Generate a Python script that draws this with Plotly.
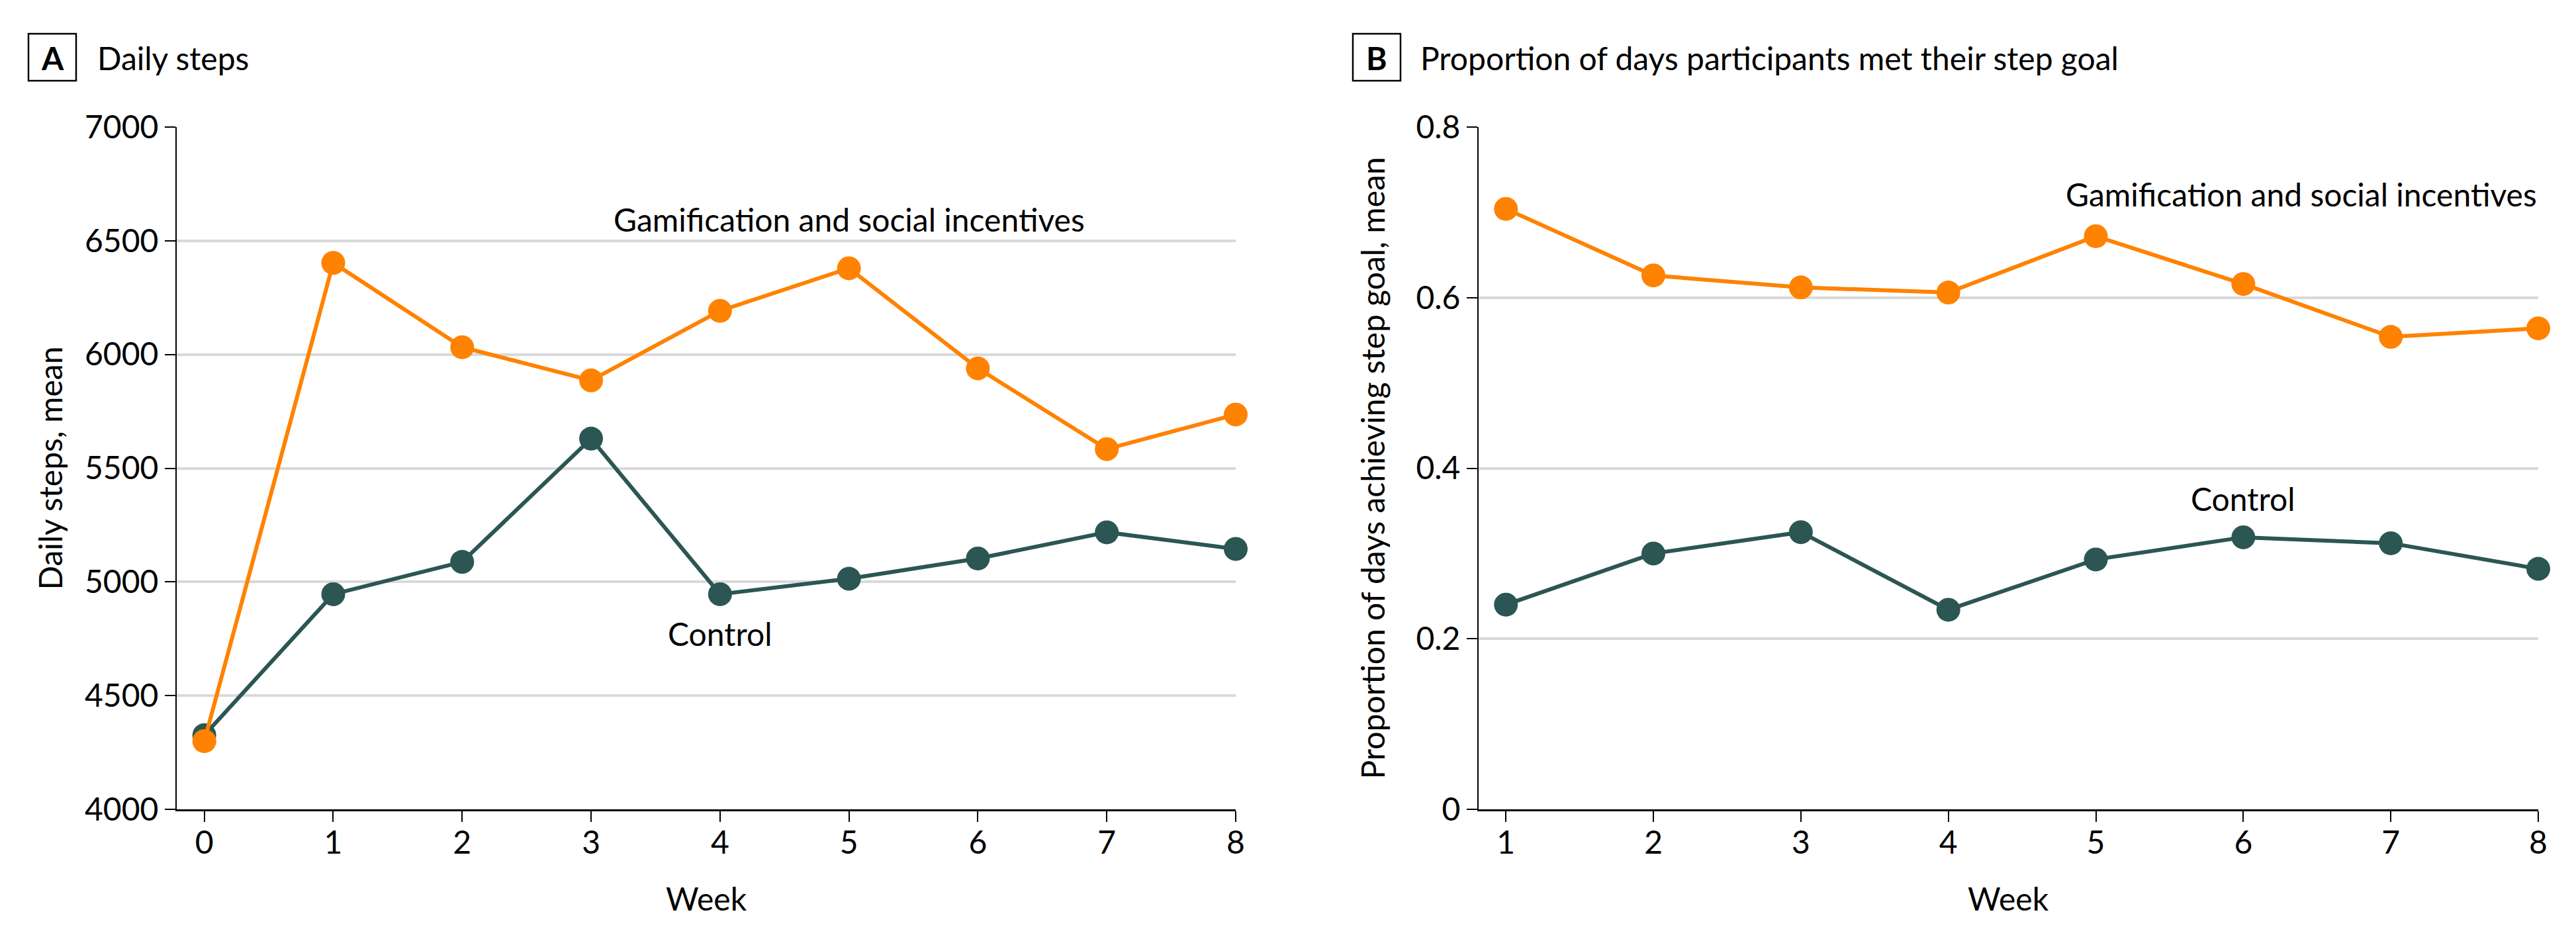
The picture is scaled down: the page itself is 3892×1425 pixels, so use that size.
import plotly.graph_objects as go

# page body has an 8 px margin; size the figure to fit inside the window
OFF = 8
W, H = 3892 - 2 * OFF, 1425 - 2 * OFF

# ---- data ----
weeks_a = [0, 1, 2, 3, 4, 5, 6, 7, 8]
steps_gamification = [4300, 6403, 6032, 5886, 6192, 6379, 5939, 5584, 5736]
steps_control = [4326, 4946, 5088, 5630, 4946, 5014, 5103, 5218, 5145]

weeks_b = [1, 2, 3, 4, 5, 6, 7, 8]
prop_gamification = [0.704, 0.626, 0.612, 0.606, 0.672, 0.616, 0.554, 0.564]
prop_control = [0.240, 0.300, 0.325, 0.234, 0.293, 0.319, 0.312, 0.282]

yticks_a = [4000, 4500, 5000, 5500, 6000, 6500, 7000]
yticks_b = [0, 0.2, 0.4, 0.6, 0.8]
yticktext_b = ["0", "0.2", "0.4", "0.6", "0.8"]

ORANGE = "#FF8200"
TEAL = "#2B5653"
GRID = "#D9D9D9"
FONT = "Lato, Liberation Sans, sans-serif"
FS = 48

def px_x(p):
    return (p - OFF) / W

def px_y(p):
    return 1 - (p - OFF) / H

fig = go.Figure()

line_w = 6
msize = 36

fig.add_trace(go.Scatter(x=weeks_a, y=steps_control, mode="lines+markers",
                         line=dict(color=TEAL, width=line_w),
                         marker=dict(color=TEAL, size=msize),
                         cliponaxis=False, xaxis="x", yaxis="y", showlegend=False))
fig.add_trace(go.Scatter(x=weeks_a, y=steps_gamification, mode="lines+markers",
                         line=dict(color=ORANGE, width=line_w),
                         marker=dict(color=ORANGE, size=msize),
                         cliponaxis=False, xaxis="x", yaxis="y", showlegend=False))
fig.add_trace(go.Scatter(x=weeks_b, y=prop_control, mode="lines+markers",
                         line=dict(color=TEAL, width=line_w),
                         marker=dict(color=TEAL, size=msize),
                         cliponaxis=False, xaxis="x2", yaxis="y2", showlegend=False))
fig.add_trace(go.Scatter(x=weeks_b, y=prop_gamification, mode="lines+markers",
                         line=dict(color=ORANGE, width=line_w),
                         marker=dict(color=ORANGE, size=msize),
                         cliponaxis=False, xaxis="x2", yaxis="y2", showlegend=False))

plot_top, plot_bot = 192, 1223
ydom = [px_y(plot_bot), px_y(plot_top)]
xdomA = [px_x(267), px_x(1867)]
xdomB = [px_x(2234), px_x(3835)]

axis_common = dict(showline=True, linecolor="black", ticks="outside", ticklen=16,
                   tickwidth=2, tickcolor="black", automargin=False,
                   tickfont=dict(family=FONT, size=FS, color="black"))

fig.update_layout(
    template="none",
    width=W, height=H,
    margin=dict(l=0, r=0, t=0, b=0, autoexpand=False),
    paper_bgcolor="white", plot_bgcolor="white",
    font=dict(family=FONT, size=FS, color="black"),
    xaxis=dict(domain=xdomA, range=[-0.214, 8], tickvals=weeks_a, showgrid=False,
               zeroline=False, linewidth=3, anchor="y", ticklabelstandoff=-10,
               **axis_common),
    yaxis=dict(domain=ydom, range=[4000, 7000], tickvals=yticks_a, showgrid=True,
               gridcolor=GRID, gridwidth=4, zeroline=False, linewidth=2, anchor="x",
               **axis_common),
    xaxis2=dict(domain=xdomB, range=[0.815, 8], tickvals=weeks_b, showgrid=False,
                zeroline=False, linewidth=3, anchor="y2", ticklabelstandoff=-10,
                **axis_common),
    yaxis2=dict(domain=ydom, range=[0, 0.8], tickvals=yticks_b, ticktext=yticktext_b,
                showgrid=True, gridcolor=GRID, gridwidth=4, zeroline=False, linewidth=2,
                anchor="x2", **axis_common),
)

ann = []
shapes = []

def panel_title(letter, box_x0, text_x, title):
    shapes.append(dict(type="rect", xref="paper", yref="paper",
                       x0=px_x(box_x0), x1=px_x(box_x0 + 72),
                       y0=px_y(122), y1=px_y(51),
                       line=dict(color="black", width=2.5), fillcolor="white"))
    ann.append(dict(text="<b>%s</b>" % letter, xref="paper", yref="paper",
                    x=px_x(box_x0 + 36), y=px_y(87), xanchor="center", yanchor="middle",
                    showarrow=False, font=dict(family=FONT, size=FS, color="black")))
    ann.append(dict(text=title, xref="paper", yref="paper",
                    x=px_x(text_x), y=px_y(87), xanchor="left", yanchor="middle",
                    showarrow=False, font=dict(family=FONT, size=FS, color="black")))

panel_title("A", 43, 145, "Daily steps")
panel_title("B", 2044, 2144, "Proportion of days participants met their step goal")

# axis titles
ann.append(dict(text="Week", xref="paper", yref="paper", x=(xdomA[0] + xdomA[1]) / 2,
                y=px_y(1357), xanchor="center", yanchor="middle", showarrow=False,
                font=dict(family=FONT, size=FS)))
ann.append(dict(text="Week", xref="paper", yref="paper", x=(xdomB[0] + xdomB[1]) / 2,
                y=px_y(1357), xanchor="center", yanchor="middle", showarrow=False,
                font=dict(family=FONT, size=FS)))
ann.append(dict(text="Daily steps, mean", xref="paper", yref="paper", x=px_x(75),
                y=(ydom[0] + ydom[1]) / 2, xanchor="center", yanchor="middle",
                textangle=-90, showarrow=False, font=dict(family=FONT, size=FS)))
ann.append(dict(text="Proportion of days achieving step goal, mean", xref="paper",
                yref="paper", x=px_x(2073), y=(ydom[0] + ydom[1]) / 2, xanchor="center",
                yanchor="middle", textangle=-90, showarrow=False,
                font=dict(family=FONT, size=FS)))

# series labels
ann.append(dict(text="Gamification and social incentives", xref="x", yref="y",
                x=5, y=6595, xanchor="center", yanchor="middle", showarrow=False,
                font=dict(family=FONT, size=FS)))
ann.append(dict(text="Control", xref="x", yref="y", x=4, y=4772, xanchor="center",
                yanchor="middle", showarrow=False, font=dict(family=FONT, size=FS)))
ann.append(dict(text="Gamification and social incentives", xref="x2", yref="y2",
                x=8, y=0.721, xanchor="right", yanchor="middle", showarrow=False,
                font=dict(family=FONT, size=FS)))
ann.append(dict(text="Control", xref="x2", yref="y2", x=6, y=0.364, xanchor="center",
                yanchor="middle", showarrow=False, font=dict(family=FONT, size=FS)))

fig.update_layout(annotations=ann, shapes=shapes)

fig.write_html("out.html")
